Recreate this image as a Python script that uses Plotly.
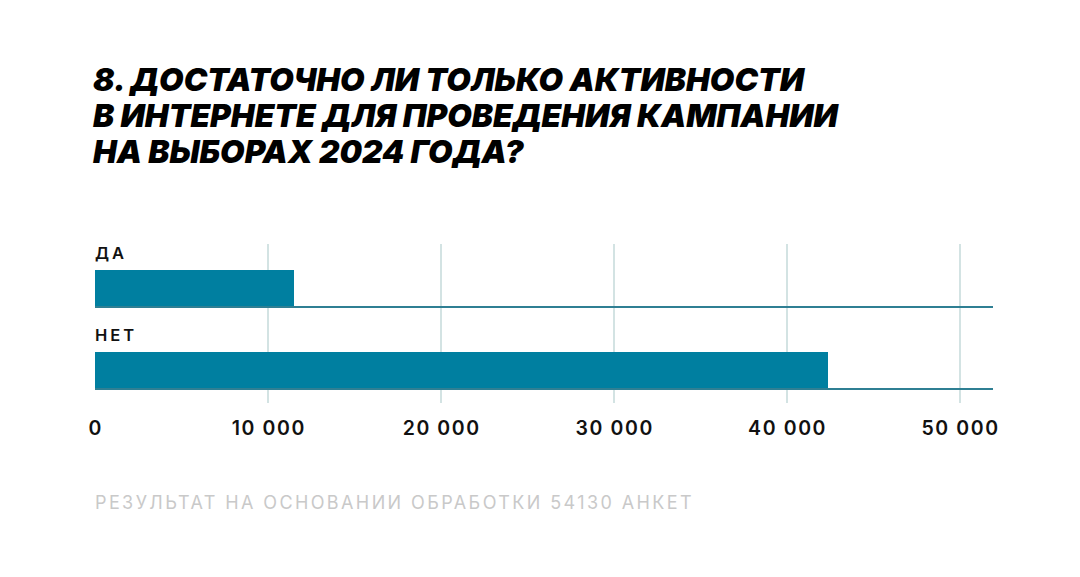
import plotly.graph_objects as go

categories = ["ДА", "НЕТ"]
values = [11500, 42400]
tick_values = [0, 10000, 20000, 30000, 40000, 50000]
tick_labels = ["0", "10 000", "20 000", "30 000", "40 000", "50 000"]
x_max = 51924

title_lines = [
    "8. ДОСТАТОЧНО ЛИ ТОЛЬКО АКТИВНОСТИ",
    "В ИНТЕРНЕТЕ ДЛЯ ПРОВЕДЕНИЯ КАМПАНИИ",
    "НА ВЫБОРАХ 2024 ГОДА?",
]
footer_text = "РЕЗУЛЬТАТ НА ОСНОВАНИИ ОБРАБОТКИ 54130 АНКЕТ"

BAR = "#007fa0"
LINE = "#2f7f93"
GRID = "#d3e3e3"

W, H = 1080, 577
left, right = 94.5, 993.3
top, bottom = 244, 403

pos = list(range(len(categories)))

fig = go.Figure()

for p in pos:
    fig.add_trace(go.Scatter(
        x=[0, x_max], y=[p + 0.222, p + 0.222], mode="lines",
        line=dict(color=LINE, width=2), hoverinfo="skip", showlegend=False,
    ))

fig.add_trace(go.Bar(
    y=pos, x=values, orientation="h", width=0.451,
    marker=dict(color=BAR, line=dict(width=0)), showlegend=False,
))

for p, c in zip(pos, categories):
    fig.add_annotation(
        x=0, y=p - 0.44, xref="x", yref="y", text=c, showarrow=False,
        xanchor="left", yanchor="middle", xshift=-2,
        font=dict(family="Inter", size=16.5, color="#111111", weight=600),
    )

for i, line in enumerate(title_lines):
    cy = 79 + 36 * i
    fig.add_annotation(
        xref="paper", yref="paper", x=0, y=1, xanchor="left", yanchor="middle",
        xshift=93 - left - 3, yshift=(top - cy),
        text=line, showarrow=False, align="left",
        font=dict(family="Inter", size=31.7, color="#000000", weight=900, style="italic"),
    )

fig.add_annotation(
    xref="paper", yref="paper", x=0, y=0, xanchor="left", yanchor="middle",
    xshift=-2, yshift=-(502 - bottom),
    text=footer_text, showarrow=False,
    font=dict(family="Inter", size=18, color="#c9c9c9", weight=400),
)

fig.update_layout(
    width=W, height=H,
    margin=dict(l=left, r=W - right, t=top, b=H - bottom),
    paper_bgcolor="white", plot_bgcolor="white",
    separators=", ",
    xaxis=dict(
        range=[0, x_max], tickvals=tick_values, ticktext=tick_labels,
        showgrid=True, gridcolor=GRID, gridwidth=2, zeroline=False,
        showline=False, ticks="", ticklabelstandoff=11,
        tickfont=dict(family="Inter", size=19.5, color="#111111", weight=600),
    ),
    yaxis=dict(
        range=[1.394, -0.545], showticklabels=False, showgrid=False,
        zeroline=False, showline=False, ticks="",
    ),
    bargap=0,
)

post_js = """
var gd = document.getElementById('{plot_id}');
function spaceText(t, ls, keepLeft) {
  if (!t || t.getAttribute('data-ls')) return;
  var w0 = t.getComputedTextLength();
  t.style.letterSpacing = ls;
  var w1 = t.getComputedTextLength();
  var shift = keepLeft ? (w1 - w0) / 2 : parseFloat(ls) / 2;
  var x = parseFloat(t.getAttribute('x') || '0');
  t.setAttribute('x', x + shift);
  t.querySelectorAll('tspan[x]').forEach(function (s) {
    s.setAttribute('x', parseFloat(s.getAttribute('x')) + shift);
  });
  t.setAttribute('data-ls', '1');
}
function applySpacing() {
  gd.querySelectorAll('g.xtick text').forEach(function (t) {
    spaceText(t, '1.6px', false);
  });
  gd.querySelectorAll('g.annotation').forEach(function (g) {
    var i = +g.getAttribute('data-index');
    var t = g.querySelector('text');
    if (i === 0 || i === 1) spaceText(t, '3px', true);
    if (i === 5) spaceText(t, '2.4px', true);
  });
}
applySpacing();
gd.on('plotly_afterplot', applySpacing);
"""

fig.write_html("out.html", post_script=post_js)
